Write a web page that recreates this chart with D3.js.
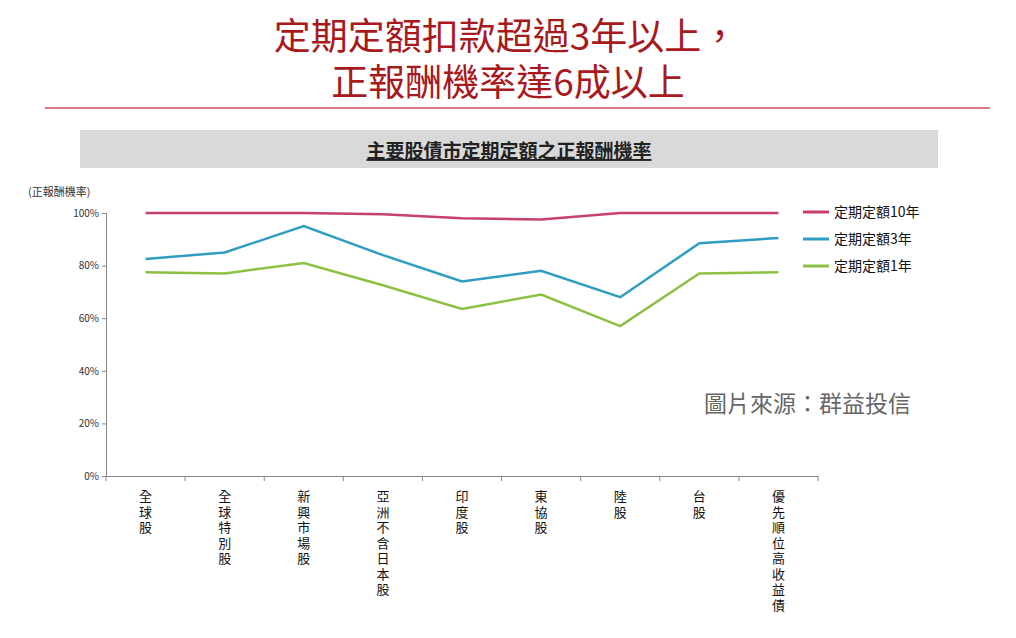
<!DOCTYPE html><html><head><meta charset="utf-8"><script src="https://d3js.org/d3.v7.min.js"></script>
<style>body{margin:0;background:#fff}text{font-family:"Noto Sans CJK TC",sans-serif}</style></head><body><svg id="c" width="1016" height="638"></svg><script>
const categories=["全球股","全球特別股","新興市場股","亞洲不含日本股","印度股","東協股","陸股","台股","優先順位高收益債"];
const s10=[100,100,100,99.5,98,97.5,100,100,100];
const s3=[82.5,85,95,84,74,78,68,88.5,90.5];
const s1=[77.5,77,81,72.5,63.5,69,57,77,77.5];
const seriesNames=["定期定額10年","定期定額3年","定期定額1年"];
const colors=["#c8406e","#2f9dc0","#8cc043"];
const yTicks=[0,20,40,60,80,100];
const svg=d3.select("#c");
svg.append("text").attr("x",506).attr("y",50).attr("text-anchor","middle").attr("font-size",37).attr("fill","#a8191c").text("定期定額扣款超過3年以上，");
svg.append("text").attr("x",508).attr("y",96).attr("text-anchor","middle").attr("font-size",37).attr("fill","#a8191c").text("正報酬機率達6成以上");
svg.append("line").attr("x1",45).attr("x2",990).attr("y1",108).attr("y2",108).attr("stroke","#e07a80").attr("stroke-width",2);
svg.append("rect").attr("x",80).attr("y",130).attr("width",858).attr("height",38).attr("fill","#d9d9d9");
svg.append("text").attr("x",509).attr("y",158).attr("text-anchor","middle").attr("font-size",19).attr("font-weight","bold").attr("fill","#222").attr("text-decoration","underline").text("主要股債市定期定額之正報酬機率");
const x=d3.scaleBand().domain(categories).range([106,818]);
const y=d3.scaleLinear().domain([0,100]).range([476,213]);
const g=svg.append("g");
g.append("g").attr("transform","translate(106,0)").call(d3.axisLeft(y).tickValues(yTicks).tickFormat(d=>d+"%").tickSize(4)).call(a=>{a.selectAll("text").attr("font-size",10).attr("fill","#333");a.selectAll("line,path").attr("stroke","#888");});
const xa=g.append("g").attr("transform","translate(0,476)").call(d3.axisBottom(x).tickSize(0).tickFormat(""));
xa.select("path").attr("stroke","#888");
categories.forEach(c=>{const xx=x(c);g.append("line").attr("x1",xx).attr("x2",xx).attr("y1",476).attr("y2",481).attr("stroke","#888");});
g.append("line").attr("x1",818).attr("x2",818).attr("y1",476).attr("y2",481).attr("stroke","#888");
categories.forEach(c=>{const cx=x(c)+x.bandwidth()/2;const t=g.append("text").attr("font-size",13).attr("text-anchor","middle").attr("fill","#111");
[...c].forEach((ch,i)=>t.append("tspan").attr("x",cx).attr("y",501+i*15.5).text(ch));});
svg.append("text").attr("x",28).attr("y",196).attr("font-size",11).attr("fill","#333").text("(正報酬機率)");
const line=d3.line().x((d,i)=>x(categories[i])+x.bandwidth()/2).y(d=>y(d));
[s10,s3,s1].forEach((s,k)=>{svg.append("path").attr("d",line(s)).attr("fill","none").attr("stroke",colors[k]).attr("stroke-width",2.5);
const ly=212+k*27;svg.append("line").attr("x1",803).attr("x2",829).attr("y1",ly).attr("y2",ly).attr("stroke",colors[k]).attr("stroke-width",3);
svg.append("text").attr("x",834).attr("y",ly+5).attr("font-size",14).attr("fill","#111").text(seriesNames[k]);});
svg.append("text").attr("x",704).attr("y",412).attr("font-size",23).attr("fill","#666").text("圖片來源：群益投信");
</script></body></html>
